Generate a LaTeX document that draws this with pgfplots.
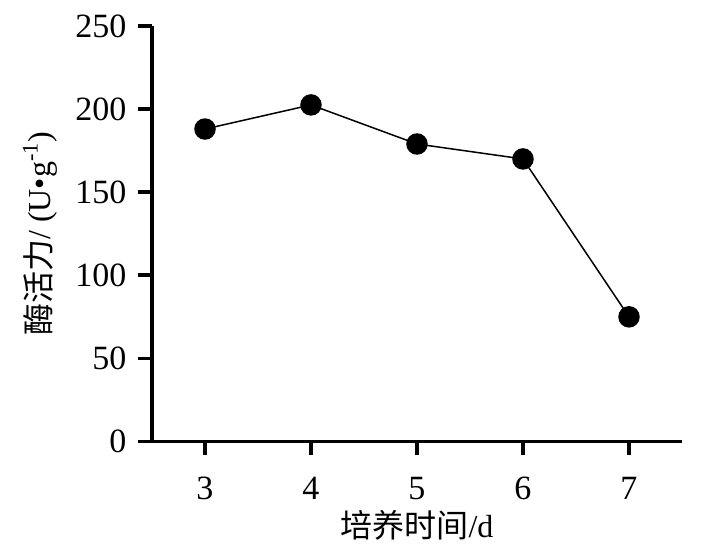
\documentclass[border=0pt]{standalone}
\usepackage{fontspec}
\setmainfont{Liberation Serif}
\newfontfamily\cjk{Noto Sans CJK SC}
\usepackage{pgfplots}
\pgfplotsset{compat=1.18}
\begin{document}
\fontsize{17pt}{20pt}\selectfont
\begin{tikzpicture}
\useasboundingbox (-76pt,-59.25pt) rectangle (286.5pt,220.75pt);
\begin{axis}[
  at={(0,0)}, anchor=south west,
  scale only axis, width=265pt, height=207.75pt,
  axis lines=left, axis line style={line width=1.8pt,-},
  xmin=2.5, xmax=7.5, ymin=0, ymax=250,
  xtick={3,4,5,6,7}, ytick={0,50,100,150,200,250},
  tick align=outside, major tick length=7pt,
  tick style={line width=1.8pt, black},
  /pgf/number format/assume math mode=true,
  ticklabel style={font=\fontsize{17pt}{20pt}\selectfont},
  xticklabel style={yshift=-5pt},
  xlabel={{\cjk 培养时间}/d},
  ylabel={{\cjk 酶活力}/ (U•g\textsuperscript{-1})},
  label style={font=\fontsize{16pt}{19pt}\selectfont},
  xlabel style={at={(axis description cs:0.5,0)},anchor=center,yshift=-42pt},
  ylabel style={at={(axis description cs:0,0.5)},anchor=center,yshift=56pt},
  clip=false,
]
\addplot[black, line width=0.75pt, mark=*, mark size=5pt, mark options={fill=black}]
  coordinates {(3,188) (4,202.5) (5,179) (6,170) (7,75)};
\end{axis}
\end{tikzpicture}
\end{document}
